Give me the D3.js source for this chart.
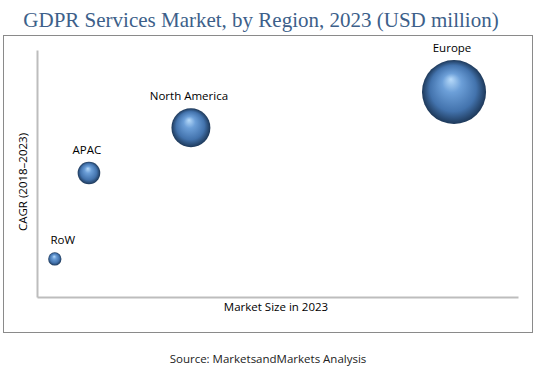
<!DOCTYPE html>
<html>
<head>
<meta charset="utf-8">
<script src="https://cdn.jsdelivr.net/npm/d3@7"></script>
<style>
  body { margin: 0; background: #fff; }
  #chart { width: 536px; height: 370px; }
</style>
</head>
<body>
<div id="chart"></div>
<script>
// values (relative units, no ticks shown)
const regions = ['RoW', 'APAC', 'North America', 'Europe'];
const marketSize = [3.7, 10.8, 32, 86.7];
const cagr = [15.4, 50.2, 68.5, 83];

const svgWidth = 536;
const svgHeight = 370;
const margin = { top: 50, right: 18, bottom: 73, left: 37 };
const width = svgWidth - margin.left - margin.right;
const height = svgHeight - margin.top - margin.bottom;

const data = regions.map((name, i) => ({
  name: name,
  size: marketSize[i],
  cagr: cagr[i],
}));

const svg = d3.select('#chart').append('svg')
  .attr('width', svgWidth)
  .attr('height', svgHeight);

// sphere look
const grad = svg.append('defs').append('radialGradient')
  .attr('id', 'sphere')
  .attr('cx', '50%').attr('cy', '50%').attr('r', '50%')
  .attr('fx', '45%').attr('fy', '30%');
grad.append('stop').attr('offset', '0%').attr('stop-color', '#b8dbfa');
grad.append('stop').attr('offset', '30%').attr('stop-color', '#6c9fd8');
grad.append('stop').attr('offset', '72%').attr('stop-color', '#4373ad');
grad.append('stop').attr('offset', '100%').attr('stop-color', '#1d3859');

// outer frame
svg.append('rect')
  .attr('x', 3.5).attr('y', 35.5)
  .attr('width', 529).attr('height', 297)
  .attr('fill', 'none')
  .attr('stroke', '#8a8a8a')
  .attr('stroke-width', 1);

svg.append('text')
  .attr('x', 261).attr('y', 27)
  .attr('text-anchor', 'middle')
  .attr('font-family', 'Liberation Serif, serif')
  .attr('font-size', 21)
  .attr('fill', '#3d5f8a')
  .text('GDPR Services Market, by Region, 2023 (USD million)');

const g = svg.append('g')
  .attr('transform', `translate(${margin.left},${margin.top})`);

const x = d3.scaleLinear().domain([0, 100]).range([0, width]);
const y = d3.scaleLinear().domain([0, 100]).range([height, 0]);
const r = d3.scaleSqrt().domain([0, 100]).range([0, 34.4]);

// axes: plain lines, no ticks
g.append('g')
  .attr('transform', `translate(0,${height})`)
  .call(d3.axisBottom(x).tickValues([]).tickSizeOuter(0))
  .call(a => a.select('.domain').attr('stroke', '#bdbdbd').attr('stroke-width', 2));

g.append('g')
  .call(d3.axisLeft(y).tickValues([]).tickSizeOuter(0))
  .call(a => a.select('.domain').attr('stroke', '#bdbdbd').attr('stroke-width', 2));

const bubble = g.selectAll('.bubble')
  .data(data)
  .enter().append('g')
  .attr('class', 'bubble');

bubble.append('circle')
  .attr('cx', d => x(d.size))
  .attr('cy', d => y(d.cagr))
  .attr('r', d => r(d.size))
  .attr('fill', 'url(#sphere)');

const labelFont = 'Open Sans, sans-serif';

bubble.append('text')
  .attr('x', d => x(d.size) + (d.name === 'RoW' ? 8 : -2))
  .attr('y', d => y(d.cagr) - r(d.size) - 8)
  .attr('text-anchor', 'middle')
  .attr('font-family', labelFont)
  .attr('font-size', 11.5)
  .attr('font-weight', 500)
  .attr('fill', '#000')
  .text(d => d.name);

svg.append('text')
  .attr('x', 276).attr('y', 311)
  .attr('text-anchor', 'middle')
  .attr('font-family', labelFont)
  .attr('font-size', 11.5)
  .attr('font-weight', 500)
  .attr('fill', '#000')
  .text('Market Size in 2023');

svg.append('text')
  .attr('transform', 'translate(27,182) rotate(-90)')
  .attr('text-anchor', 'middle')
  .attr('font-family', labelFont)
  .attr('font-size', 11.5)
  .attr('font-weight', 500)
  .attr('fill', '#000')
  .text('CAGR (2018–2023)');

svg.append('text')
  .attr('x', 268).attr('y', 363)
  .attr('text-anchor', 'middle')
  .attr('font-family', labelFont)
  .attr('font-size', 11.5)
  .attr('fill', '#222')
  .text('Source: MarketsandMarkets Analysis');
</script>
</body>
</html>
